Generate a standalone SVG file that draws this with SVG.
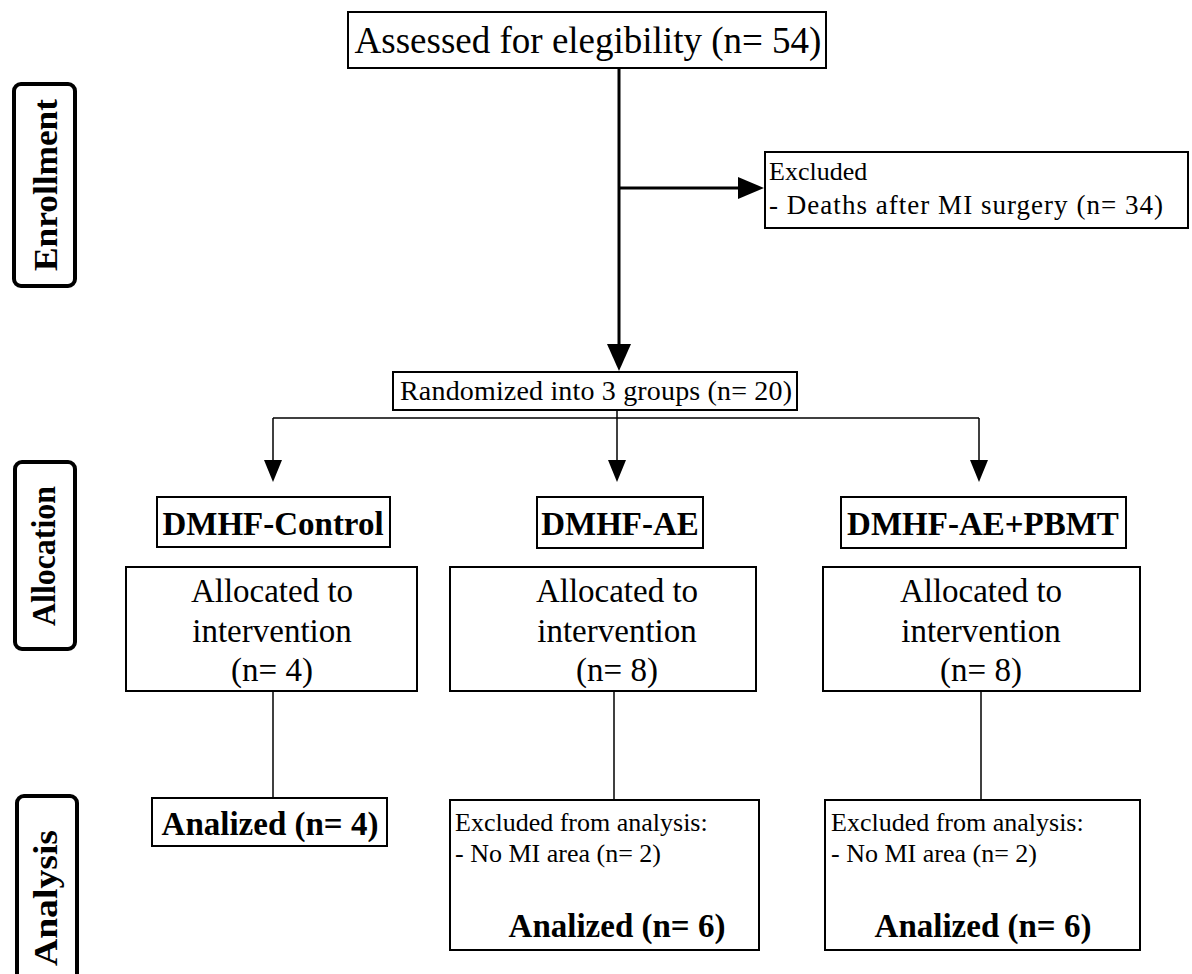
<svg xmlns="http://www.w3.org/2000/svg" width="1192" height="974" viewBox="0 0 1192 974">
<defs>
<style>
.box{fill:#fff;stroke:#000;stroke-width:2}
.side{fill:#fff;stroke:#000;stroke-width:4}
text{font-family:'Liberation Serif','Times New Roman',serif;fill:#000}
.b{font-weight:bold}
.thick{stroke:#000;stroke-width:3;fill:none}
.thin{stroke:#000;stroke-width:1.5;fill:none}
</style>
</defs>
<rect width="1192" height="974" fill="#fff"/>
<g id="connectors">
<line class="thick" x1="619" y1="68" x2="619" y2="350"/>
<path d="M607,344 L631,344 L619,371 z" fill="#000"/>
<line class="thick" x1="619" y1="188" x2="742" y2="188"/>
<path d="M738,177 L738,199 L764,188 z" fill="#000"/>
<line class="thin" x1="617" y1="410" x2="617" y2="462"/>
<line class="thin" x1="273" y1="418" x2="979" y2="418"/>
<line class="thin" x1="273" y1="418" x2="273" y2="462"/>
<line class="thin" x1="979" y1="418" x2="979" y2="462"/>
<path d="M264,460 L282,460 L273,482 z" fill="#000"/>
<path d="M608,460 L626,460 L617,482 z" fill="#000"/>
<path d="M970,460 L988,460 L979,482 z" fill="#000"/>
<line class="thin" x1="273" y1="691" x2="273" y2="798"/>
<line class="thin" x1="614" y1="691" x2="614" y2="800"/>
<line class="thin" x1="981" y1="691" x2="981" y2="800"/>
</g>
<g id="side-enrollment">
<rect class="side" x="14" y="84" width="61" height="202" rx="7"/>
<text class="b" font-size="34" text-anchor="middle" textLength="172" lengthAdjust="spacingAndGlyphs" transform="translate(57,185) rotate(-90)">Enrollment</text>
</g>
<g id="side-allocation">
<rect class="side" x="15" y="462" width="60" height="187" rx="7"/>
<text class="b" font-size="33" text-anchor="middle" textLength="140" lengthAdjust="spacingAndGlyphs" transform="translate(55,556) rotate(-90)">Allocation</text>
</g>
<g id="side-analysis">
<rect class="side" x="17" y="796" width="60" height="190" rx="7"/>
<text class="b" font-size="34" text-anchor="middle" textLength="136" lengthAdjust="spacingAndGlyphs" transform="translate(57,898) rotate(-90)">Analysis</text>
</g>
<g id="assessed">
<rect class="box" x="348" y="12" width="478" height="56"/>
<text font-size="37" x="588" y="53" text-anchor="middle">Assessed for elegibility (n= 54)</text>
</g>
<g id="excluded">
<rect class="box" x="765" y="152" width="423" height="76"/>
<text font-size="26" x="769" y="180">Excluded</text>
<text font-size="27" x="769" y="214" textLength="394">- Deaths after MI surgery (n= 34)</text>
</g>
<g id="randomized">
<rect class="box" x="393" y="372" width="404" height="38"/>
<text font-size="28" x="400" y="400" textLength="392">Randomized into 3 groups (n= 20)</text>
</g>
<g id="g-control">
<rect class="box" x="157" y="497" width="233" height="50"/>
<text class="b" font-size="33" x="273" y="535" text-anchor="middle">DMHF-Control</text>
</g>
<g id="g-ae">
<rect class="box" x="537" y="497" width="166" height="51"/>
<text class="b" font-size="33" x="620" y="535" text-anchor="middle">DMHF-AE</text>
</g>
<g id="g-aepbmt">
<rect class="box" x="841" y="497" width="285" height="51"/>
<text class="b" font-size="33" x="983" y="535" text-anchor="middle">DMHF-AE+PBMT</text>
</g>
<g id="alloc-control">
<rect class="box" x="126" y="567" width="291" height="124"/>
<text font-size="33" x="272" y="602" text-anchor="middle">Allocated to</text>
<text font-size="33" x="272" y="642" text-anchor="middle">intervention</text>
<text font-size="33" x="272" y="681" text-anchor="middle">(n= 4)</text>
</g>
<g id="alloc-ae">
<rect class="box" x="450" y="567" width="306" height="124"/>
<text font-size="33" x="617" y="602" text-anchor="middle">Allocated to</text>
<text font-size="33" x="617" y="642" text-anchor="middle">intervention</text>
<text font-size="33" x="617" y="681" text-anchor="middle">(n= 8)</text>
</g>
<g id="alloc-aepbmt">
<rect class="box" x="823" y="567" width="317" height="124"/>
<text font-size="33" x="981" y="602" text-anchor="middle">Allocated to</text>
<text font-size="33" x="981" y="642" text-anchor="middle">intervention</text>
<text font-size="33" x="981" y="681" text-anchor="middle">(n= 8)</text>
</g>
<g id="anal-control">
<rect class="box" x="152" y="798" width="235" height="48"/>
<text class="b" font-size="33" x="270" y="835" text-anchor="middle">Analized (n= 4)</text>
</g>
<g id="anal-ae">
<rect class="box" x="450" y="800" width="309" height="150"/>
<text font-size="26" x="455" y="831">Excluded from analysis:</text>
<text font-size="26" x="455" y="862">- No MI area (n= 2)</text>
<text class="b" font-size="33" x="617" y="937" text-anchor="middle">Analized (n= 6)</text>
</g>
<g id="anal-aepbmt">
<rect class="box" x="825" y="800" width="315" height="150"/>
<text font-size="26" x="831" y="831">Excluded from analysis:</text>
<text font-size="26" x="831" y="862">- No MI area (n= 2)</text>
<text class="b" font-size="33" x="983" y="937" text-anchor="middle">Analized (n= 6)</text>
</g>
</svg>
